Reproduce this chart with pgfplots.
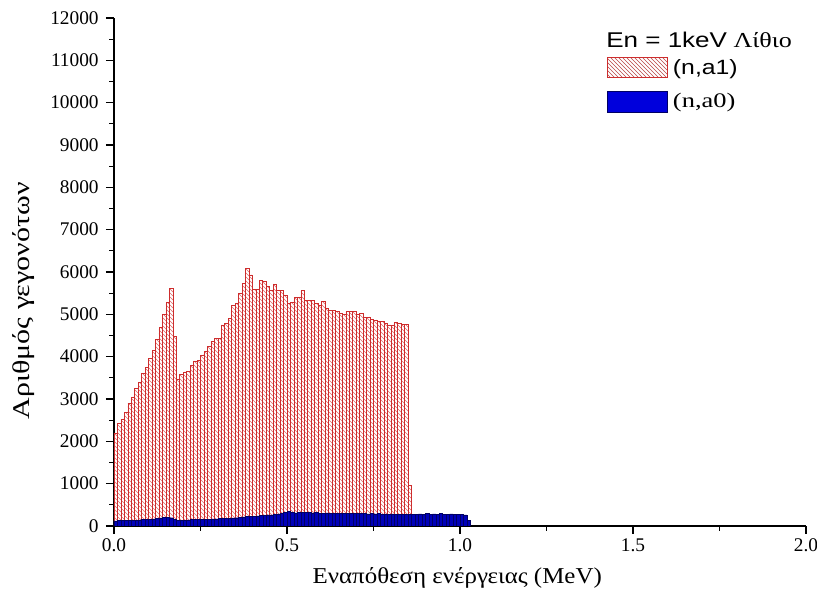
\documentclass[border=0pt]{standalone}
\usepackage{graphicx}
\usepackage{pgfplots}
\pgfplotsset{compat=1.18}
\usepackage{pgfplotstable}
\usetikzlibrary{patterns}
\usepackage{fontspec}
\setmainfont{Liberation Serif}
\newfontfamily\arial{Liberation Sans}
\definecolor{barred}{RGB}{205,45,45}
\definecolor{hatchred}{RGB}{225,105,105}
\definecolor{myblue}{RGB}{0,0,185}
\definecolor{legblue}{RGB}{0,0,220}
\definecolor{navy}{RGB}{0,0,100}

\pgfplotstableread{
x y
0.005 2200
0.015 2430
0.025 2530
0.035 2680
0.045 2900
0.055 3050
0.065 3250
0.075 3400
0.085 3600
0.095 3750
0.105 3950
0.115 4150
0.125 4400
0.135 4700
0.145 4990
0.155 5280
0.165 5620
0.175 4490
0.185 3470
0.195 3590
0.205 3640
0.215 3650
0.225 3800
0.235 3900
0.245 3910
0.255 4040
0.265 4120
0.275 4240
0.285 4360
0.295 4430
0.305 4440
0.315 4750
0.325 4790
0.335 4910
0.345 5220
0.355 5260
0.365 5500
0.375 5730
0.385 6090
0.395 5930
0.405 5590
0.415 5590
0.425 5810
0.435 5770
0.445 5670
0.455 5570
0.465 5720
0.475 5570
0.485 5560
0.495 5460
0.505 5260
0.515 5280
0.525 5400
0.535 5400
0.545 5570
0.555 5320
0.565 5320
0.575 5320
0.585 5260
0.595 5220
0.605 5300
0.615 5140
0.625 5100
0.635 5090
0.645 5060
0.655 5030
0.665 4990
0.675 5060
0.685 5060
0.695 5060
0.705 4990
0.715 5020
0.725 4930
0.735 4940
0.745 4880
0.755 4870
0.765 4830
0.775 4840
0.785 4790
0.795 4750
0.805 4750
0.815 4800
0.825 4790
0.835 4770
0.845 4760
0.855 950
}\redtable

\pgfplotstableread{
x y
0.005 120
0.015 125
0.025 130
0.035 128
0.045 135
0.055 140
0.065 138
0.075 145
0.085 150
0.095 155
0.105 160
0.115 170
0.125 175
0.135 190
0.145 200
0.155 205
0.165 195
0.175 165
0.185 140
0.195 135
0.205 140
0.215 145
0.225 150
0.235 148
0.245 155
0.255 160
0.265 158
0.275 165
0.285 170
0.295 168
0.305 175
0.315 180
0.325 178
0.335 185
0.345 190
0.355 195
0.365 205
0.375 215
0.385 225
0.395 220
0.405 230
0.415 240
0.425 245
0.435 250
0.445 260
0.455 265
0.465 275
0.475 285
0.485 300
0.495 330
0.505 345
0.515 320
0.525 310
0.535 330
0.545 325
0.555 315
0.565 320
0.575 310
0.585 318
0.595 305
0.605 300
0.615 310
0.625 305
0.635 298
0.645 300
0.655 295
0.665 305
0.675 300
0.685 292
0.695 298
0.705 300
0.715 290
0.725 295
0.735 288
0.745 292
0.755 285
0.765 290
0.775 282
0.785 288
0.795 280
0.805 285
0.815 278
0.825 282
0.835 275
0.845 280
0.855 272
0.865 278
0.875 270
0.885 285
0.895 275
0.905 290
0.915 280
0.925 285
0.935 278
0.945 290
0.955 282
0.965 275
0.975 285
0.985 280
0.995 272
1.005 270
1.015 265
1.025 125
}\bluetable

\begin{document}
\begin{tikzpicture}
\begin{axis}[
  name=ax,
  scale only axis,
  width=519pt, height=381pt,
  xmin=0, xmax=2, ymin=0, ymax=12000,
  axis lines*=left,
  axis line style={line width=0.8pt},
  tick align=outside,
  tick style={black, line width=0.8pt},
  major tick length=6pt, minor tick length=3.5pt,
  xtick={0,0.5,1,1.5,2},
  minor x tick num=1,
  ytick={0,1000,...,12000},
  minor y tick num=1,
  /pgf/number format/assume math mode=true,
  xticklabel style={/pgf/number format/.cd, fixed, fixed zerofill, precision=1},
  yticklabel style={/pgf/number format/.cd, 1000 sep={}, /tikz/.cd, xshift=-2pt},
  scaled y ticks=false,
  tick label style={font=\fontsize{14.5}{17}\selectfont},
  xlabel={\scalebox{1.1}[1]{Εναπόθεση ενέργειας (MeV)}},
  ylabel={\scalebox{1.25}[1]{Αριθμός γεγονότων}},
  xlabel style={font=\fontsize{17}{20}\selectfont, at={(axis description cs:0.496,-0.102)}, anchor=center},
  ylabel style={font=\fontsize{18}{21}\selectfont, at={(axis description cs:-0.130,0.443)}, anchor=center, rotate=0},
  legend style={at={(axis description cs:0.712,0.925)}, anchor=north west, draw=none, fill=none,
    font=\fontsize{15.5}{18}\selectfont, row sep=9pt, inner sep=0pt, column sep=2pt},
  legend cell align=left,
]
\addplot[ybar, bar width=0.01, bar shift=0pt, draw=barred, line width=0.45pt,
  pattern=north west lines, pattern color=hatchred, forget plot] table[x=x,y=y] {\redtable};
\addplot[ybar, bar width=0.01, bar shift=0pt, draw=navy, line width=0.35pt,
  fill=myblue, forget plot] table[x=x,y=y] {\bluetable};

\addlegendimage{legend image code/.code={\draw[draw=barred, line width=0.5pt, pattern=north west lines, pattern color=red!45!gray] (0pt,-7.5pt) rectangle (45pt,7.5pt);}}
\addlegendentry{\scalebox{1.2}[1]{\arial (n,a1)}}
\addlegendimage{legend image code/.code={\draw[draw=navy, line width=0.5pt, fill=legblue] (0pt,-8pt) rectangle (45pt,8pt);}}
\addlegendentry{\scalebox{1.28}[1]{(n,a0)}}

\node[anchor=west, inner sep=0pt, font=\fontsize{16}{19}\selectfont] at (axis description cs:0.711,0.957) {\scalebox{1.22}[1]{{\arial En = 1keV} Λίθιο}};
\end{axis}
\pgfresetboundingbox
\path[use as bounding box] ([shift={(-85.5pt,-51.75pt)}]ax.south west) rectangle ([shift={(8.25pt,13.5pt)}]ax.north east);
\end{tikzpicture}
\end{document}
